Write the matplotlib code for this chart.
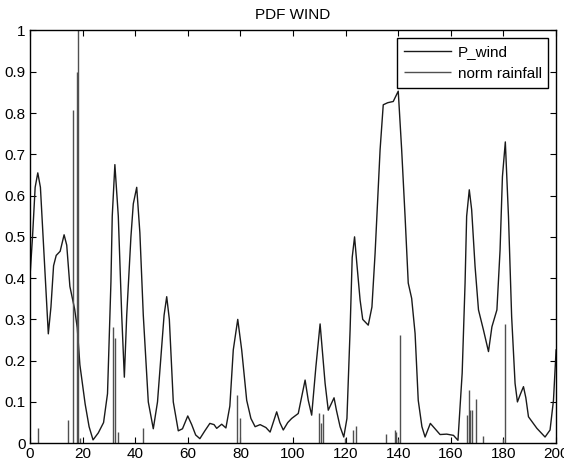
import matplotlib
matplotlib.use("Agg")
import matplotlib.pyplot as plt

plt.rcParams["font.family"] = ["Liberation Sans", "DejaVu Sans"]

# P_wind curve
wind_x = [0, 1, 2, 3, 4, 5, 6, 7, 8, 9, 10, 11.5, 13, 14, 15.2, 17, 18, 19, 21, 22.5,
          24, 26, 28, 29.5, 30.8, 31.3, 32.3, 33.6, 34.9, 35.9, 36.8, 38.4, 39.3, 40.6, 41.8,
          43.1, 45, 46.9, 48.5, 50, 51, 52, 53, 54.5, 56.4, 58, 60, 61.5, 63, 64.6,
          66.5, 68.4, 70, 71, 72.9, 74.5, 76, 77.3, 79, 80.5, 82.4, 84, 85.6, 87.5, 89.7,
          91.3, 93.8, 95, 96.3, 98, 99.5, 102, 103.3, 104.6, 105.8, 107.1, 108.7, 110.3, 111.5,
          112.2, 113.4, 115.6, 116.5, 117.9, 119.3, 120.5, 121.7, 122.5, 123.4, 124.2, 125.5,
          126.5, 128.6, 130, 131.2, 133.1, 134.3, 136, 138.1, 140, 141.3, 142.6, 143.8, 145.1,
          146.4, 147.6, 149, 150.2, 152.2, 154, 155.9, 158.4, 161, 162.7, 164.3, 165.4, 166,
          167, 167.9, 169.2, 170.5, 172.4, 174.3, 175.6, 177.5, 178.7, 179.6, 180.7, 181.9,
          183.1, 184.4, 185.3, 186.5, 187.6, 188.5, 189.5, 192.7, 195.8, 197.7, 199, 200]
wind_y = [0.40, 0.50, 0.62, 0.655, 0.62, 0.50, 0.38, 0.265, 0.33, 0.43, 0.455, 0.465, 0.505,
          0.48, 0.38, 0.325, 0.28, 0.19, 0.095, 0.04, 0.008, 0.025, 0.05, 0.12, 0.39, 0.55,
          0.675, 0.55, 0.31, 0.16, 0.31, 0.50, 0.58, 0.62, 0.51, 0.31, 0.10, 0.035, 0.10,
          0.225, 0.31, 0.355, 0.30, 0.10, 0.03, 0.035, 0.066, 0.045, 0.02, 0.011, 0.03, 0.048,
          0.045, 0.036, 0.046, 0.037, 0.09, 0.226, 0.30, 0.226, 0.104, 0.06, 0.04, 0.045,
          0.038, 0.027, 0.076, 0.05, 0.032, 0.05, 0.06, 0.072, 0.112, 0.153, 0.104, 0.068,
          0.185, 0.289, 0.20, 0.145, 0.08, 0.11, 0.08, 0.04, 0.015, 0.06, 0.274, 0.45, 0.50,
          0.44, 0.347, 0.30, 0.286, 0.33, 0.46, 0.711, 0.82, 0.825, 0.828, 0.853, 0.711,
          0.549, 0.388, 0.351, 0.266, 0.104, 0.04, 0.015, 0.048, 0.035, 0.021, 0.022, 0.019,
          0.007, 0.17, 0.388, 0.55, 0.614, 0.566, 0.428, 0.323, 0.274, 0.222, 0.282, 0.323,
          0.468, 0.646, 0.73, 0.549, 0.307, 0.145, 0.10, 0.12, 0.137, 0.11, 0.064, 0.036,
          0.015, 0.032, 0.104, 0.226]

# normalised rainfall spikes
rain_x = [2.9, 14.6, 16.5, 17.8, 18.2, 19.0, 31.4, 32.4, 33.6, 42.8, 78.8, 80.0,
          110.0, 110.7, 111.5, 119.9, 122.9, 123.9, 135.5, 138.6, 139.2, 140.0, 140.8,
          166.0, 166.8, 167.4, 168.0, 169.7, 172.1, 179.7, 180.7]
rain_y = [0.037, 0.056, 0.808, 0.90, 1.0, 0.012, 0.282, 0.256, 0.027, 0.036, 0.118, 0.061,
          0.074, 0.05, 0.07, 0.012, 0.032, 0.042, 0.023, 0.032, 0.027, 0.011, 0.262,
          0.068, 0.13, 0.08, 0.08, 0.108, 0.017, 0.011, 0.289]

x_ticks = list(range(0, 201, 20))
y_ticks = [i / 10 for i in range(11)]
y_labels = ["0", "0.1", "0.2", "0.3", "0.4", "0.5", "0.6", "0.7", "0.8", "0.9", "1"]

fig = plt.figure(figsize=(5.64, 4.69), dpi=100)
ax = fig.add_axes([0.053, 0.055, 0.933, 0.880])

ax.plot(wind_x, wind_y, color="#1a1a1a", lw=1.0, label="P_wind")
ax.vlines(rain_x, 0, rain_y, color="#505050", lw=1.0, label="norm rainfall")

ax.set_xlim(0, 200)
ax.set_ylim(0, 1)
ax.set_xticks(x_ticks)
ax.set_yticks(y_ticks)
ax.set_yticklabels(y_labels)
ax.tick_params(direction="in", top=True, right=True, length=4, labelsize=11, pad=3)
for s in ax.spines.values():
    s.set_linewidth(1.0)

ax.set_title("PDF WIND", fontsize=11, pad=8)

leg = ax.legend(loc="upper right", fontsize=11, fancybox=False, framealpha=1,
                edgecolor="black", borderaxespad=0.5, handlelength=3.1,
                handletextpad=0.4, borderpad=0.45, labelspacing=0.5)
leg.get_frame().set_linewidth(1.0)

fig.savefig("out.png", dpi=100)
